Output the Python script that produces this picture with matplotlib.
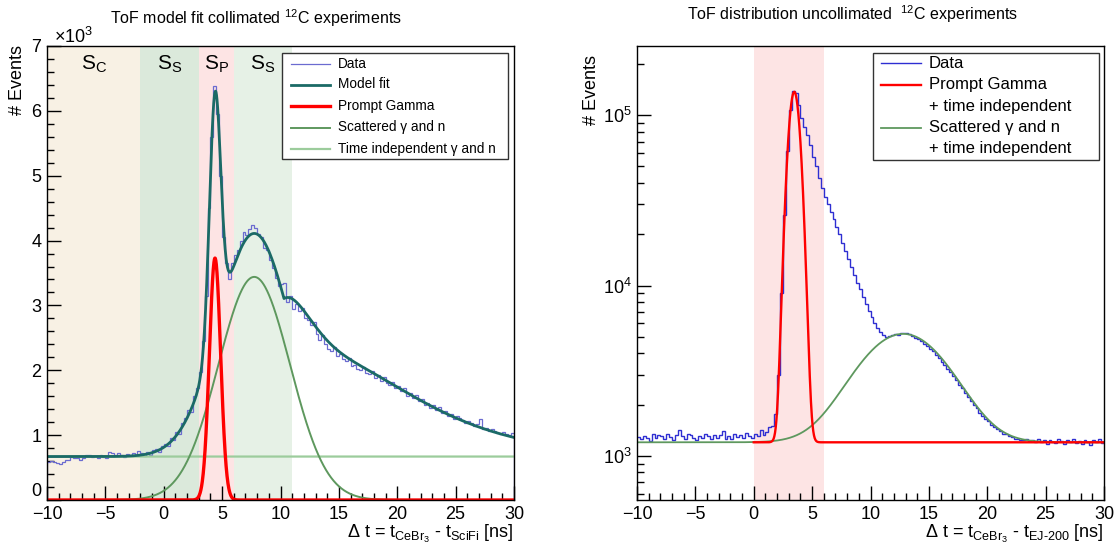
import numpy as np
import matplotlib
matplotlib.use("Agg")
import matplotlib.pyplot as plt
from matplotlib.ticker import MultipleLocator, LogLocator, NullFormatter
from matplotlib.lines import Line2D
from matplotlib.patches import Rectangle

plt.rcParams.update({
    "font.family": ["Liberation Sans", "DejaVu Sans"],
    "mathtext.fontset": "custom",
    "mathtext.rm": "Liberation Sans",
    "mathtext.it": "Liberation Sans:italic",
    "mathtext.bf": "Liberation Sans:bold",
})

W, H = 1117, 548

# ---------------- binning ----------------
t_min, t_max, bin_width = -10.0, 30.0, 0.25

# ---------------- collimated run ----------------
counts_coll = [
    590, 600, 580, 575, 560, 590, 620, 610, 660, 640,
    650, 620, 640, 690, 700, 660, 680, 640, 690, 670,
    650, 740, 720, 690, 730, 700, 660, 710, 690, 720,
    700, 760, 720, 680, 740, 700, 770, 790, 740, 830,
    870, 830, 950, 930, 1050, 1020, 1180, 1260, 1380, 1350,
    1600, 1720, 1980, 2450, 3150, 4500, 5600, 6380, 5950, 5000,
    4050, 3650, 3400, 3650, 3780, 3850, 4000, 4130, 4080, 4180,
    4240, 4200, 4100, 4050, 3880, 3850, 3700, 3580, 3420, 3300,
    3330, 3350, 3050, 3150, 2950, 3020, 2920, 2960, 2800, 2780,
    2700, 2740, 2560, 2470, 2550, 2400, 2330, 2300, 2360, 2220,
    2250, 2180, 2140, 2190, 2060, 2080, 2020, 2000, 2050, 1960,
    1940, 1990, 1880, 1920, 1840, 1890, 1800, 1770, 1820, 1730,
    1760, 1680, 1720, 1610, 1650, 1570, 1620, 1530, 1560, 1460,
    1490, 1420, 1460, 1380, 1430, 1340, 1370, 1300, 1330, 1250,
    1290, 1260, 1240, 1190, 1220, 1180, 1140, 1170, 1250, 1090,
    1110, 1060, 1090, 1070, 1040, 1010, 1050, 1020, 1000, 1040,
]
coll_yticks = [0, 1000, 2000, 3000, 4000, 5000, 6000, 7000]
coll_yticklabels = ["0", "1", "2", "3", "4", "5", "6", "7"]

# fit parameters (counts per bin, ns)
coll_flat = 670.0
coll_prompt = (3730.0, 4.39, 0.48)      # amplitude, mean, sigma
coll_scatter = (3440.0, 7.75, 3.07)
coll_tail = (768.0, 10.3, 5.0)          # amplitude per ns, onset, decay

# time windows: (start, end, colour, label)
windows = [
    (-10.0, -2.0, "#f8f1e4", r"S$_\mathregular{C}$"),
    (-2.0, 3.0, "#dbe9db", r"S$_\mathregular{S}$"),
    (3.0, 6.0, "#fde4e4", r"S$_\mathregular{P}$"),
    (6.0, 11.0, "#e6f1e6", r"S$_\mathregular{S}$"),
]

# ---------------- uncollimated run ----------------
counts_unc = [
    1290, 1250, 1310, 1280, 1220, 1340, 1270, 1330, 1300, 1260,
    1350, 1290, 1240, 1330, 1410, 1300, 1260, 1350, 1320, 1270,
    1240, 1310, 1280, 1350, 1300, 1260, 1330, 1270, 1320, 1390,
    1260, 1300, 1250, 1340, 1290, 1320, 1270, 1360, 1310, 1280,
    1340, 1300, 1420, 1330, 1380, 1480, 1500, 1750, 3000, 9000,
    26000, 62000, 108000, 138000, 135000, 115000, 96000, 85000, 77000, 67000,
    57000, 50000, 43000, 37500, 33000, 30000, 27000, 24500, 22000, 20000,
    17800, 15900, 14400, 12900, 11600, 10400, 9500, 8600, 7800, 7100,
    6500, 6000, 5600, 5300, 5150, 5000, 5050, 5100, 5180, 5150,
    5250, 5280, 5230, 5180, 5060, 4950, 4850, 4700, 4550, 4400,
    4250, 4120, 3920, 3750, 3560, 3420, 3250, 3120, 2950, 2790,
    2620, 2500, 2350, 2220, 2110, 1990, 1900, 1790, 1720, 1650,
    1590, 1520, 1480, 1430, 1400, 1350, 1340, 1300, 1290, 1260,
    1250, 1240, 1230, 1260, 1220, 1240, 1210, 1250, 1200, 1230,
    1180, 1240, 1210, 1190, 1250, 1220, 1170, 1230, 1200, 1260,
    1190, 1220, 1180, 1240, 1210, 1160, 1230, 1200, 1250, 1190,
]
unc_flat = 1200.0
unc_prompt = (136000.0, 3.47, 0.45)
unc_scatter = (4000.0, 12.8, 3.45)
unc_window = (0.0, 6.0, "#fde4e4")


def gauss(x, p):
    a, mu, s = p
    return a * np.exp(-0.5 * ((x - mu) / s) ** 2)


def tail(x, p):
    a, t0, tau = p
    dx = np.clip(x - t0, 0, None)
    return a * dx * np.exp(-dx / tau)


def fig_xy(px, py):
    return px / W, 1 - py / H


fig = plt.figure(figsize=(W / 100, H / 100), dpi=100)

ax_pos = [(47, 46, 514, 500), (637, 46, 1104, 500)]
axes = []
for (x0, y0, x1, y1) in ax_pos:
    axes.append(fig.add_axes([x0 / W, 1 - y1 / H, (x1 - x0) / W, (y1 - y0) / H]))
ax1, ax2 = axes

edges = t_min + bin_width * np.arange(len(counts_coll) + 1)
tt = np.linspace(t_min, t_max, 2001)

# ---------------- left panel ----------------
for (a, b, c, lab) in windows:
    ax1.axvspan(a, b, color=c, lw=0, zorder=0)
    ax1.text((a + b) / 2, 6720, lab, ha="center", va="center", fontsize=15, zorder=3)

ax1.stairs(counts_coll, edges, baseline=0, color="#6b6bd0", lw=0.9, zorder=2)

flat_c = np.full_like(tt, coll_flat)
prompt_c = gauss(tt, coll_prompt)
scatter_c = gauss(tt, coll_scatter)
model_c = flat_c + prompt_c + scatter_c + tail(tt, coll_tail)

ax1.plot(tt, flat_c, color="#9ccc9c", lw=1.6, zorder=3)
ax1.plot(tt, scatter_c, color="#5e985e", lw=1.4, zorder=3)
ax1.plot(tt, model_c, color="#1b6a66", lw=2.0, zorder=4)
ax1.plot(tt, prompt_c, color="#ff0000", lw=2.4, zorder=5)

ax1.set_xlim(t_min, t_max)
ax1.set_ylim(0, 7000)
ax1.set_yticks(coll_yticks, coll_yticklabels)
ax1.yaxis.set_minor_locator(MultipleLocator(200))
fig.text(*fig_xy(54, 37), r"$\times$10$^{3}$", fontsize=13, ha="left", va="center")

# ---------------- right panel ----------------
ax2.axvspan(unc_window[0], unc_window[1], color=unc_window[2], lw=0, zorder=0)
ax2.stairs(counts_unc, edges, baseline=None, color="#2e2ed2", lw=1.0, zorder=2)

t_red = tt[tt >= 0]
ax2.plot(tt, unc_flat + gauss(tt, unc_scatter), color="#5e985e", lw=1.3, zorder=3)
ax2.plot(t_red, unc_flat + gauss(t_red, unc_prompt), color="#ff0000", lw=1.7, zorder=4)

ax2.set_xlim(t_min, t_max)
ax2.set_yscale("log")
ax2.set_ylim(550, 2.55e5)
ax2.yaxis.set_major_locator(LogLocator(base=10, numticks=10))
ax2.yaxis.set_minor_locator(LogLocator(base=10, subs=np.arange(2, 10), numticks=20))
ax2.yaxis.set_minor_formatter(NullFormatter())

for ax in axes:
    ax.xaxis.set_major_locator(MultipleLocator(5))
    ax.xaxis.set_minor_locator(MultipleLocator(1))
    ax.tick_params(which="both", direction="in", labelsize=13, top=False, right=False, width=1)
    ax.tick_params(which="major", length=10)
    ax.tick_params(which="minor", length=5)
    ax.tick_params(axis="x", pad=4)
    ax.tick_params(axis="y", pad=4)
    for sp in ax.spines.values():
        sp.set_linewidth(1.0)
        sp.set_zorder(6)

# the zero label sits just above the time axis
ax1.yaxis.get_major_ticks()[0].label1.set_verticalalignment("bottom")

# ---------------- texts ----------------
fig.text(*fig_xy(256, 18), r"ToF model fit collimated $^{12}$C experiments",
         ha="center", va="center", fontsize=11.5)
fig.text(*fig_xy(853, 14), r"ToF distribution uncollimated  $^{12}$C experiments",
         ha="center", va="center", fontsize=11.5)
fig.text(*fig_xy(18, 45), "# Events", rotation=90, ha="center", va="top", fontsize=13)
fig.text(*fig_xy(592, 55), "# Events", rotation=90, ha="center", va="top", fontsize=13)
fig.text(*fig_xy(514, 538), r"$\Delta$ t = t$_{\mathregular{CeBr}_{3}}$ - t$_{\mathregular{SciFi}}$ [ns]",
         ha="right", va="baseline", fontsize=13)
fig.text(*fig_xy(1104, 538), r"$\Delta$ t = t$_{\mathregular{CeBr}_{3}}$ - t$_{\mathregular{EJ\text{-}200}}$ [ns]",
         ha="right", va="baseline", fontsize=13)


# ---------------- legends ----------------
def legend_box(x0, y0, x1, y1, rows, line_x, text_x, fontsize):
    bx, by = fig_xy(x0, y1)
    fig.add_artist(Rectangle((bx, by), (x1 - x0) / W, (y1 - y0) / H,
                             transform=fig.transFigure, facecolor="white",
                             edgecolor="#333333", lw=1.0, zorder=10))
    for (yy, label, style) in rows:
        if style is not None:
            color, lw = style
            fig.add_artist(Line2D([line_x[0] / W, line_x[1] / W], [1 - yy / H] * 2,
                                  transform=fig.transFigure, color=color, lw=lw, zorder=11))
        fig.text(*fig_xy(text_x, yy), label, ha="left", va="center",
                 fontsize=fontsize, zorder=12)


legend_box(282, 53, 508, 159, [
    (63.5, "Data", ("#6b6bd0", 0.9)),
    (84.5, "Model fit", ("#1b6a66", 2.0)),
    (106, "Prompt Gamma", ("#ff0000", 2.4)),
    (127.5, "Scattered γ and n", ("#5e985e", 1.4)),
    (148.5, "Time independent γ and n", ("#9ccc9c", 1.6)),
], (291, 330), 338, 9.8)

legend_box(873, 53, 1099, 160, [
    (63, "Data", ("#2e2ed2", 1.0)),
    (84.5, "Prompt Gamma", ("#ff0000", 1.7)),
    (106, "+ time independent", None),
    (128, "Scattered γ and n", ("#5e985e", 1.3)),
    (149, "+ time independent", None),
], (881, 921), 929, 12)

fig.savefig("out.png", dpi=100)
